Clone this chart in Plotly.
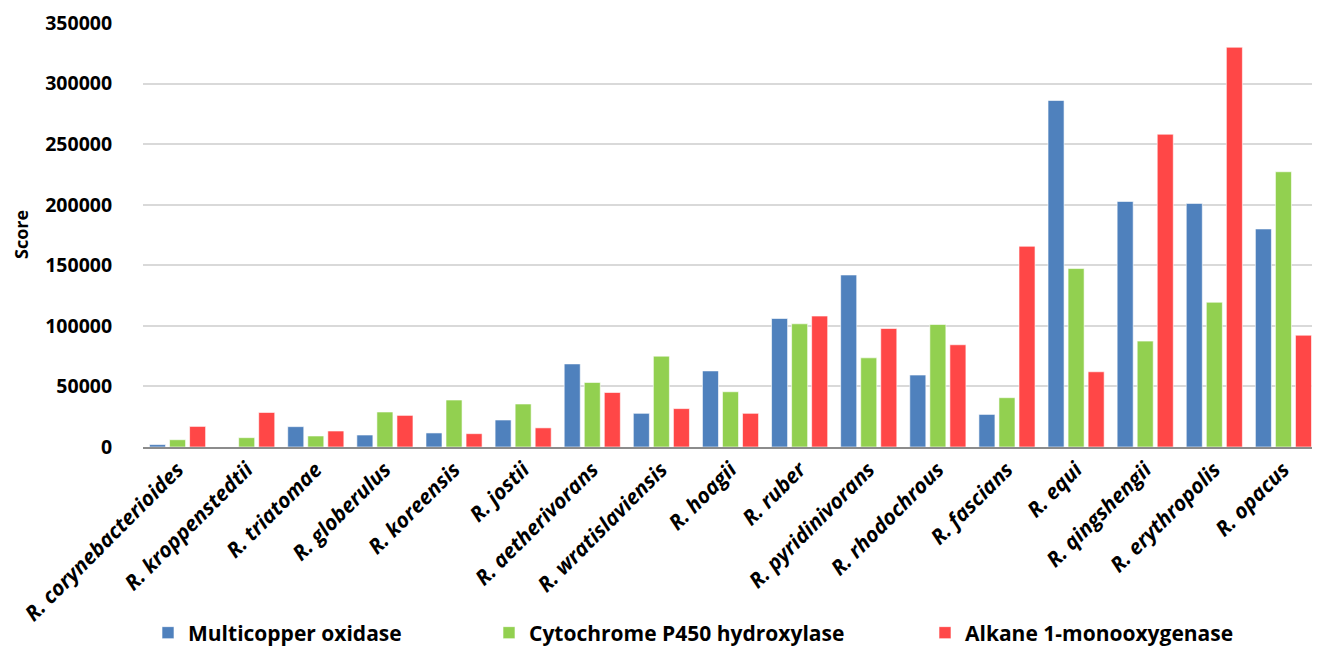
import plotly.graph_objects as go

categories = ["R. corynebacterioides", "R. kroppenstedtii", "R. triatomae", "R. globerulus",
              "R. koreensis", "R. jostii", "R. aetherivorans", "R. wratislaviensis", "R. hoagii",
              "R. ruber", "R. pyridinivorans", "R. rhodochrous", "R. fascians", "R. equi",
              "R. qingshengii", "R. erythropolis", "R. opacus"]
multicopper = [2000, 0, 16800, 9900, 11600, 22300, 68600, 27800, 62800,
               106100, 142000, 59400, 26900, 286000, 202700, 201100, 180000]
cytochrome = [6000, 7700, 9100, 28900, 38800, 35500, 53300, 75000, 45600,
              101700, 73600, 101100, 40700, 147300, 87400, 119500, 227200]
alkane = [17000, 28500, 13200, 26100, 11000, 15800, 45000, 31700, 27800,
          108100, 97800, 84400, 165700, 62100, 258200, 330000, 92300]
series_names = ["Multicopper oxidase", "Cytochrome P450 hydroxylase", "Alkane 1-monooxygenase"]
colors = ["#4F81BD", "#92D050", "#FF4747"]
y_ticks = [0, 50000, 100000, 150000, 200000, 250000, 300000, 350000]

FONT = "Open Sans"
W, H = 1312, 640  # page body has an 8px margin
fig = go.Figure()
for i, (name, vals, col) in enumerate(zip(series_names, [multicopper, cytochrome, alkane], colors)):
    fig.add_trace(go.Bar(
        x=categories, y=vals, name=name, showlegend=True,
        marker=dict(color=col, line=dict(color="rgba(255,255,255,0.6)", width=1)),
        legend="legend" if i == 0 else f"legend{i+1}",
    ))

legend_common = dict(orientation="h", xref="container", yref="container",
                     yanchor="middle", xanchor="left", y=15 / H,
                     font=dict(family=FONT, size=21, color="black", weight="bold"),
                     bgcolor="rgba(0,0,0,0)")
fig.update_layout(
    width=W, height=H,
    paper_bgcolor="white", plot_bgcolor="white",
    margin=dict(l=135, r=2, t=15, b=201),
    barmode="group", bargap=0.13, bargroupgap=0.2,
    showlegend=True,
    legend=dict(x=140 / W, **legend_common),
    legend2=dict(x=481 / W, **legend_common),
    legend3=dict(x=917 / W, **legend_common),
    xaxis=dict(
        tickangle=-45, automargin=False,
        tickfont=dict(family=FONT, size=21, color="black", weight="bold", style="italic"),
        showline=True, linecolor="#8C8C8C", linewidth=2,
        ticks="", showgrid=False,
    ),
    yaxis=dict(
        range=[0, 350000], tickvals=y_ticks, ticktext=[str(v) for v in y_ticks],
        automargin=False,
        tickfont=dict(family=FONT, size=19.5, color="black", weight="bold"),
        showgrid=True, gridcolor="#D9D9D9", gridwidth=1.5,
        zeroline=False, showline=False, ticks="outside", ticklen=26, tickcolor="rgba(0,0,0,0)",
    ),
    annotations=[dict(text="Score", xref="paper", yref="paper", x=(13 - 135) / 1175, y=0.5,
                      xanchor="center", yanchor="middle", textangle=-90, showarrow=False,
                      font=dict(family=FONT, size=18, color="black", weight="bold"))],
)
fig.write_html("out.html")
